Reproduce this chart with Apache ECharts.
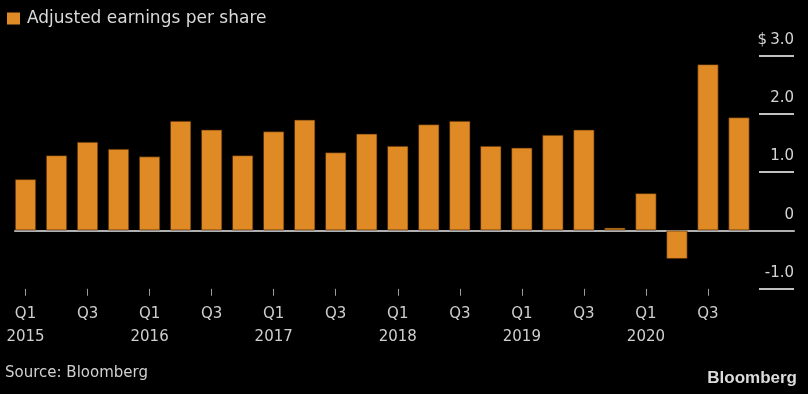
<!DOCTYPE html>
<html>
<head>
<meta charset="utf-8">
<script src="https://cdn.jsdelivr.net/npm/echarts@6/dist/echarts.min.js"></script>
<style>
html,body{margin:0;padding:0;background:#000;}
#c{width:808px;height:394px;}
</style>
</head>
<body>
<div id="c"></div>
<script>
var categories = ['Q1\n2015','Q2','Q3','Q4','Q1\n2016','Q2','Q3','Q4','Q1\n2017','Q2','Q3','Q4',
  'Q1\n2018','Q2','Q3','Q4','Q1\n2019','Q2','Q3','Q4','Q1\n2020','Q2','Q3','Q4'];
var eps = [0.88,1.29,1.52,1.40,1.27,1.88,1.73,1.29,1.70,1.90,1.34,1.66,
  1.45,1.82,1.88,1.45,1.42,1.64,1.73,0.05,0.64,-0.49,2.85,1.94];
var yTicks = [-1, 0, 1, 2, 3];
var seriesName = 'Adjusted earnings per share';

var FONT = 'DejaVu Sans';
var chart = echarts.init(document.getElementById('c'));
var gTop = 55.4, gBottom = 105.2;
chart.setOption({
  backgroundColor: '#000',
  animation: false,
  textStyle: {fontFamily: FONT},
  legend: {
    left: 2, top: 5, icon: 'rect', itemWidth: 13, itemHeight: 12, itemGap: 8,
    itemStyle: {borderWidth: 0},
    textStyle: {color: '#d9d9d9', fontSize: 17, fontFamily: FONT, padding: [0, 0, 0, 2]},
    data: [seriesName]
  },
  title: [
    {text: 'Source: Bloomberg', left: 0, top: 361,
     textStyle: {color: '#d0d0d0', fontSize: 15, fontWeight: 'normal', fontFamily: FONT}},
    {text: 'Bloomberg', right: 6, top: 365,
     textStyle: {color: '#dcdcdc', fontSize: 17, fontWeight: 'bold', fontFamily: 'Liberation Sans'}}
  ],
  grid: [
    {left: 10, right: 53.5, top: gTop, bottom: gBottom},
    {left: 15, right: 14, top: gTop, bottom: gBottom},
    {left: 759, right: 14, top: gTop, bottom: gBottom}
  ],
  xAxis: [
    {type: 'category', gridIndex: 0, data: categories, position: 'bottom',
     axisLine: {show: false, onZero: false},
     axisTick: {show: true, interval: 1, alignWithLabel: true, length: 7,
                lineStyle: {color: '#9a9a9a', width: 1}},
     axisLabel: {interval: 1, color: '#cfcfcf', fontSize: 15, lineHeight: 23, margin: 14, fontFamily: FONT},
     splitLine: {show: false}},
    {type: 'value', gridIndex: 1, min: 0, max: 1,
     axisLine: {show: true, onZero: true, lineStyle: {color: '#b0b0b0', width: 2}},
     axisTick: {show: false}, axisLabel: {show: false}, splitLine: {show: false}},
    {type: 'value', gridIndex: 2, min: 0, max: 1, show: false}
  ],
  yAxis: [
    {type: 'value', gridIndex: 0, min: yTicks[0], max: yTicks[yTicks.length-1], interval: 1, show: false},
    {type: 'value', gridIndex: 1, min: yTicks[0], max: yTicks[yTicks.length-1], interval: 1, show: false},
    {type: 'value', gridIndex: 2, min: yTicks[0], max: yTicks[yTicks.length-1], interval: 1, position: 'right',
     axisLine: {show: false}, axisTick: {show: false},
     splitLine: {show: true, lineStyle: {color: '#c0c0c0', width: 2}},
     axisLabel: {inside: true, margin: 0, color: '#d4d4d4', fontSize: 15, fontFamily: FONT,
       align: 'right', verticalAlign: 'bottom', padding: [0, 0, 8, 0],
       formatter: function (v) {
         if (v === 0) return '0';
         var s = v.toFixed(1);
         return v === yTicks[yTicks.length-1] ? '$\u2009' + s : s;
       }}}
  ],
  series: [{
    name: seriesName, type: 'bar', xAxisIndex: 0, yAxisIndex: 0,
    data: eps, barWidth: '69%',
    itemStyle: {color: '#DF8A24', borderColor: 'rgba(60,30,0,0.6)', borderWidth: 1}
  }]
});
</script>
</body>
</html>
